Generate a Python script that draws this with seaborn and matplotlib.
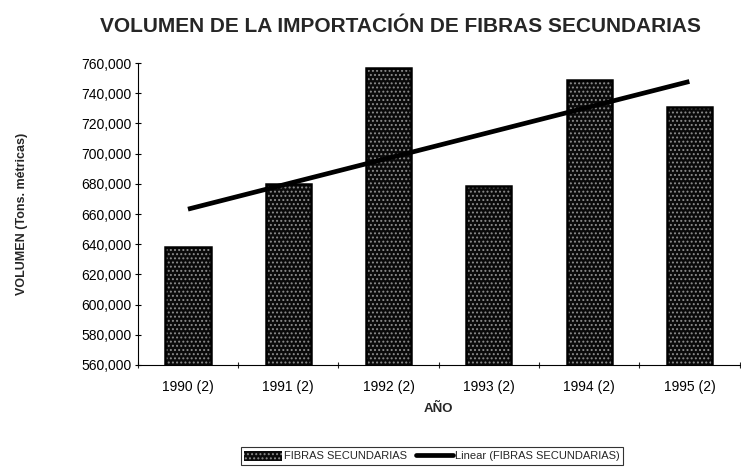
import numpy as np
import pandas as pd
import matplotlib
matplotlib.use('Agg')
import matplotlib.pyplot as plt
import seaborn as sns
from matplotlib.patches import Patch
from matplotlib.lines import Line2D
from matplotlib.ticker import FuncFormatter, MultipleLocator, FixedLocator

# datos
anios = ['1990 (2)', '1991 (2)', '1992 (2)', '1993 (2)', '1994 (2)', '1995 (2)']
volumen = [638000, 680000, 757000, 678500, 748500, 731000]

df = pd.DataFrame({'anio': anios, 'volumen': volumen, 'pos': range(len(anios))})

sns.set_style('white')
plt.rcParams['font.family'] = ['Liberation Sans', 'DejaVu Sans']
plt.rcParams['hatch.linewidth'] = 0.9

fig = plt.figure(figsize=(7.41, 4.74), dpi=100)
ax = fig.add_axes([0.186, 0.23, 0.812, 0.637])

# barras oscuras con textura punteada
sns.barplot(data=df, x='anio', y='volumen', width=0.45, color='#0a0a0a',
            edgecolor='#8c8c8c', linewidth=0, hatch='....', ax=ax)
# contorno negro
sns.barplot(data=df, x='anio', y='volumen', width=0.45, fill=False,
            color='black', linewidth=1.8, ax=ax)

# linea de tendencia
sns.regplot(data=df, x='pos', y='volumen', scatter=False, ci=None, truncate=True,
            color='black', line_kws={'linewidth': 3.4, 'solid_capstyle': 'butt'}, ax=ax)

ax.set_xlim(-0.5, 5.5)
ax.set_ylim(560000, 760000)
ax.yaxis.set_major_locator(MultipleLocator(20000))
ax.yaxis.set_major_formatter(FuncFormatter(lambda v, p: f'{v:,.0f}'))
ax.set_xticks(range(len(anios)))
ax.set_xticklabels(anios)
ax.xaxis.set_minor_locator(FixedLocator(np.arange(-0.5, 6, 1)))

ax.tick_params(axis='x', which='major', length=0, pad=11, labelsize=10, colors='black')
ax.tick_params(axis='x', which='minor', direction='inout', length=5, width=0.8, bottom=True)
ax.tick_params(axis='y', which='major', direction='inout', length=5, width=0.8, pad=2,
               labelsize=10, left=True, colors='black')

for s in ['top', 'right']:
    ax.spines[s].set_visible(False)
for s in ['left', 'bottom']:
    ax.spines[s].set_color('black')
    ax.spines[s].set_linewidth(0.8)

ax.set_ylabel('VOLUMEN (Tons. métricas)', fontsize=9, fontweight='bold')
ax.yaxis.set_label_coords(-0.183, 0.5)
ax.set_xlabel('AÑO', fontsize=9.5, fontweight='bold')
ax.xaxis.set_label_coords(0.5, -0.125)

fig.text(0.54, 1 - 26 / 474, 'VOLUMEN DE LA IMPORTACIÓN DE FIBRAS SECUNDARIAS',
         ha='center', va='center', fontsize=15, fontweight='bold')

handles = [Patch(facecolor='#0a0a0a', edgecolor='#8c8c8c', hatch='....', linewidth=0),
           Line2D([], [], color='black', linewidth=3.4)]
leg = fig.legend(handles, ['FIBRAS SECUNDARIAS', 'Linear (FIBRAS SECUNDARIAS)'],
                 loc='center', bbox_to_anchor=(432 / 741, 1 - 456 / 474), ncol=2,
                 fontsize=8, frameon=True, fancybox=False, handlelength=3.4,
                 handleheight=1.0, handletextpad=0.15, columnspacing=0.8,
                 borderpad=0.3, borderaxespad=0)
leg.get_frame().set_edgecolor('black')
leg.get_frame().set_linewidth(0.8)

fig.savefig('out.png', dpi=100)
